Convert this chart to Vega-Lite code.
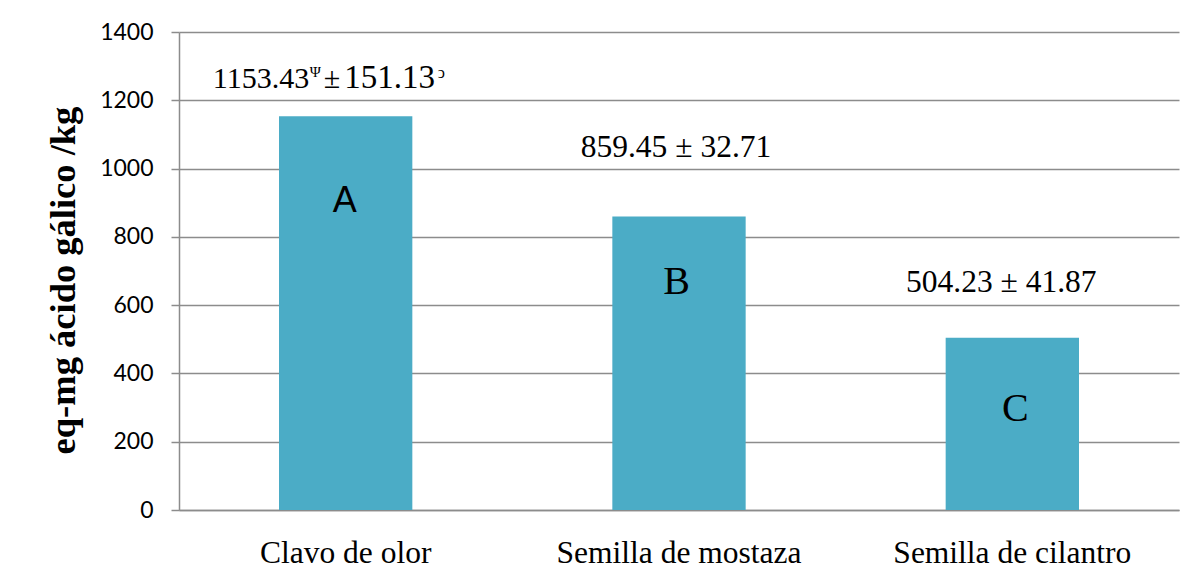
{
  "$schema": "https://vega.github.io/schema/vega-lite/v6.json",
  "width": 1000,
  "height": 478,
  "autosize": {"type": "none"},
  "padding": {"left": 179, "top": 32, "right": 1, "bottom": 66},
  "background": "white",
  "config": {"view": {"stroke": null}},
  "data": {
    "values": [
      {"cat": "Clavo de olor", "value": 1153.43, "letter": "A", "label": "1153.43", "pm": "±", "label2": "151.13", "sup1": "Ψ", "sup2": "ͻ"},
      {"cat": "Semilla de mostaza", "value": 859.45, "letter": "B", "label": "859.45 ± 32.71"},
      {"cat": "Semilla de cilantro", "value": 504.23, "letter": "C", "label": "504.23  ± 41.87"}
    ]
  },
  "encoding": {
    "x": {
      "field": "cat", "type": "nominal", "sort": null,
      "scale": {"paddingInner": 0.6, "paddingOuter": 0.3},
      "axis": {
        "title": null, "labelAngle": 0, "ticks": false, "tickSize": 0, "labelLimit": 0,
        "labelFont": "Liberation Serif", "labelFontSize": 31.5, "labelColor": "black",
        "labelBaseline": "alphabetic", "labelPadding": 52,
        "domainColor": "#8c8c8c", "domainWidth": 1.5
      }
    },
    "y": {
      "field": "value", "type": "quantitative",
      "scale": {"domain": [0, 1400], "nice": false},
      "axis": {
        "values": [0, 200, 400, 600, 800, 1000, 1200, 1400],
        "format": "d",
        "title": "eq-mg ácido gálico /kg",
        "titleFont": "Liberation Serif", "titleFontWeight": "bold", "titleFontSize": 36.5, "titleColor": "black",
        "titleAngle": -90, "titleX": -116, "titleY": 248, "titleAlign": "center", "titleBaseline": "middle",
        "labelFont": "Lato", "labelFontSize": 23, "labelColor": "black", "labelPadding": 18,
        "tickSize": 8, "tickColor": "#8c8c8c", "tickWidth": 1.5,
        "domainColor": "#8c8c8c", "domainWidth": 1.5,
        "grid": true, "gridColor": "#8c8c8c", "gridWidth": 1.5
      }
    }
  },
  "layer": [
    {"mark": {"type": "bar", "color": "#4BACC6"}},
    {
      "transform": [{"filter": "datum.cat === 'Clavo de olor'"}],
      "mark": {"type": "text", "font": "Liberation Serif", "fontSize": 30, "align": "right", "baseline": "alphabetic", "dx": -36.5, "dy": -28.3, "color": "black"},
      "encoding": {"text": {"field": "label"}}
    },
    {
      "transform": [{"filter": "datum.cat === 'Clavo de olor'"}],
      "mark": {"type": "text", "font": "Liberation Serif", "fontSize": 15, "align": "left", "baseline": "alphabetic", "dx": -36, "dy": -39, "color": "black"},
      "encoding": {"text": {"field": "sup1"}}
    },
    {
      "transform": [{"filter": "datum.cat === 'Clavo de olor'"}],
      "mark": {"type": "text", "font": "Liberation Serif", "fontSize": 30, "align": "left", "baseline": "alphabetic", "dx": -22, "dy": -28.3, "color": "black"},
      "encoding": {"text": {"field": "pm"}}
    },
    {
      "transform": [{"filter": "datum.cat === 'Clavo de olor'"}],
      "mark": {"type": "text", "font": "Liberation Serif", "fontSize": 33, "align": "left", "baseline": "alphabetic", "dx": -1.5, "dy": -28.3, "color": "black"},
      "encoding": {"text": {"field": "label2"}}
    },
    {
      "transform": [{"filter": "datum.cat === 'Clavo de olor'"}],
      "mark": {"type": "text", "font": "Liberation Serif", "fontSize": 16, "align": "left", "baseline": "alphabetic", "dx": 92, "dy": -38, "color": "black"},
      "encoding": {"text": {"field": "sup2"}}
    },
    {
      "transform": [{"filter": "datum.cat === 'Semilla de mostaza'"}],
      "mark": {"type": "text", "font": "Liberation Serif", "fontSize": 31.5, "align": "center", "baseline": "alphabetic", "dx": -3, "dy": -59.3, "color": "black"},
      "encoding": {"text": {"field": "label"}}
    },
    {
      "transform": [{"filter": "datum.cat === 'Semilla de cilantro'"}],
      "mark": {"type": "text", "font": "Liberation Serif", "fontSize": 31.5, "align": "center", "baseline": "alphabetic", "dx": -11, "dy": -46.1, "color": "black"},
      "encoding": {"text": {"field": "label"}}
    },
    {
      "transform": [{"filter": "datum.cat === 'Clavo de olor'"}],
      "mark": {"type": "text", "font": "Liberation Sans", "fontSize": 36, "align": "center", "baseline": "alphabetic", "dx": -1, "dy": 95.4, "color": "black"},
      "encoding": {"text": {"field": "letter"}}
    },
    {
      "transform": [{"filter": "datum.cat === 'Semilla de mostaza'"}],
      "mark": {"type": "text", "font": "Liberation Serif", "fontSize": 40, "align": "center", "baseline": "alphabetic", "dx": -2.5, "dy": 77.4, "color": "black"},
      "encoding": {"text": {"field": "letter"}}
    },
    {
      "transform": [{"filter": "datum.cat === 'Semilla de cilantro'"}],
      "mark": {"type": "text", "font": "Liberation Serif", "fontSize": 40, "align": "center", "baseline": "alphabetic", "dx": 3, "dy": 82.9, "color": "black"},
      "encoding": {"text": {"field": "letter"}}
    }
  ]
}
